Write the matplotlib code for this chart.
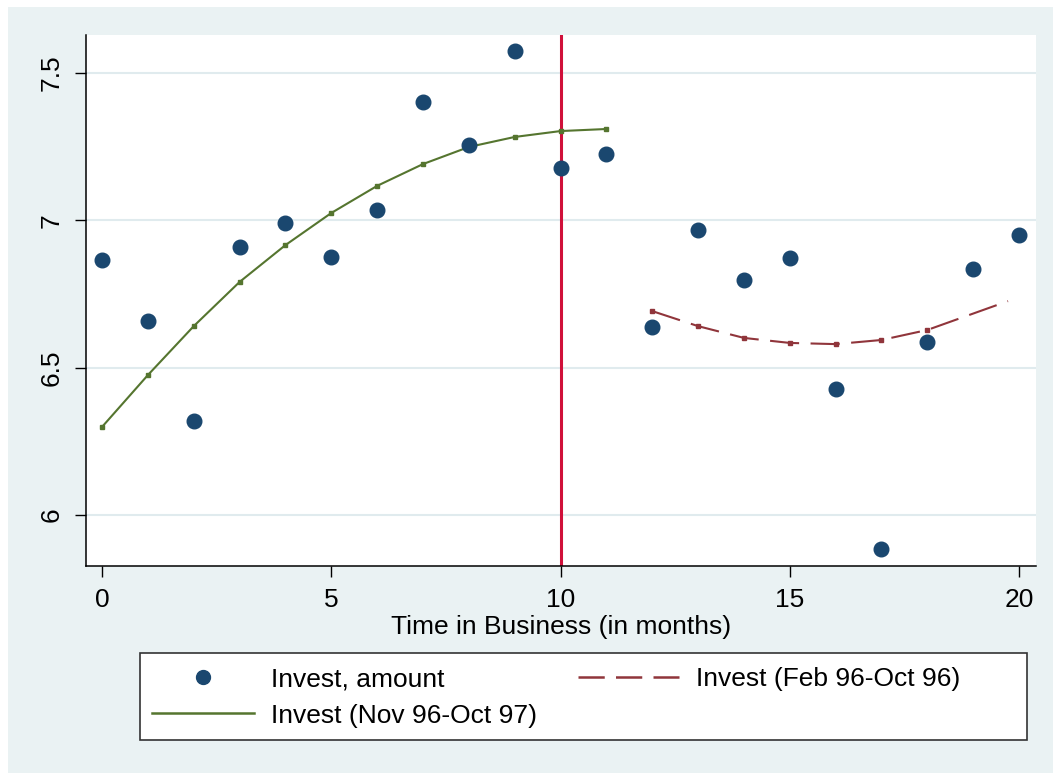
import matplotlib
matplotlib.use('Agg')
import matplotlib.pyplot as plt
from matplotlib.patches import Rectangle
from matplotlib.lines import Line2D

plt.rcParams['font.family'] = ['Liberation Sans', 'DejaVu Sans']

# observed monthly investment amounts
months = list(range(21))
invest = [6.865, 6.658, 6.319, 6.910, 6.991, 6.876, 7.035, 7.402, 7.256, 7.575,
          7.178, 7.225, 6.638, 6.967, 6.798, 6.872, 6.428, 5.885, 6.587, 6.835, 6.950]

# fitted curve Nov 96 - Oct 97
fit1_x = list(range(12))
fit1_y = [6.299, 6.475, 6.641, 6.791, 6.916, 7.025, 7.117, 7.191, 7.249, 7.283, 7.303, 7.310]

# fitted curve Feb 96 - Oct 96
fit2_x = [12, 13, 14, 15, 16, 17, 18, 19.76]
fit2_y = [6.692, 6.641, 6.601, 6.584, 6.580, 6.594, 6.628, 6.726]

cutoff = 10
xticks = [0, 5, 10, 15, 20]
yticks = [6, 6.5, 7, 7.5]
ytick_labels = ['6', '6.5', '7', '7.5']

navy = '#1A476F'
green = '#55752F'
maroon = '#90353B'
bg = '#EAF2F3'

W, H = 1053, 773
fig = plt.figure(figsize=(W / 100, H / 100), dpi=100, facecolor='white')
fig.add_artist(Rectangle((8 / W, 0), 1, 1 - 7 / H, transform=fig.transFigure,
                         facecolor=bg, edgecolor='none', zorder=0))

ax = fig.add_axes([86 / W, 1 - 566 / H, (1036 - 86) / W, (566 - 35) / H])
ax.set_facecolor('white')
ax.set_xlim(-0.35, 20.37)
ax.set_ylim(5.827, 7.629)

for y in yticks:
    ax.axhline(y, color='#E0EBEE', lw=1.5, zorder=1)

ax.axvline(cutoff, color='#D0103A', lw=2.2, zorder=2)
ax.plot(fit1_x, fit1_y, color=green, lw=1.5, marker='s', markersize=2.2, zorder=3)
ax.plot(fit2_x, fit2_y, color=maroon, lw=1.5, dashes=(14, 5.5), marker='s',
        markevery=list(range(7)), markersize=2.2, zorder=3)
ax.plot(months, invest, 'o', color=navy, markersize=10.5, zorder=4)

ax.set_xticks(xticks)
ax.set_yticks(yticks)
ax.set_yticklabels(ytick_labels, rotation=90, va='center')
ax.tick_params(axis='both', labelsize=19, length=8, width=1, pad=8, color='black')
for s in ['top', 'right']:
    ax.spines[s].set_visible(False)
for s in ['left', 'bottom']:
    ax.spines[s].set_linewidth(1.1)
ax.set_xlabel('Time in Business (in months)', fontsize=19, labelpad=2)

# legend
fig.add_artist(Rectangle((140 / W, 1 - 740 / H), (1027 - 140) / W, (740 - 653) / H,
                         transform=fig.transFigure, facecolor='white',
                         edgecolor='#333333', lw=1.2, zorder=5))
h1 = Line2D([], [], ls='none', marker='o', color=navy, markersize=10)
h2 = Line2D([], [], color=green, lw=1.8)
h3 = Line2D([], [], color=maroon, lw=1.8, dashes=(10.5, 4.5))
leg = fig.legend([h1, h2, h3],
                 ['Invest, amount', 'Invest (Nov 96-Oct 97)', 'Invest (Feb 96-Oct 96)'],
                 ncol=2, loc='upper left', bbox_to_anchor=(152 / W, 1 - 667 / H),
                 frameon=False, fontsize=19, handlelength=3.85, handletextpad=0.65,
                 columnspacing=1.55, labelspacing=0.48, borderpad=0, borderaxespad=0)
leg.set_zorder(6)

fig.savefig('out.png', dpi=100, facecolor='white')
